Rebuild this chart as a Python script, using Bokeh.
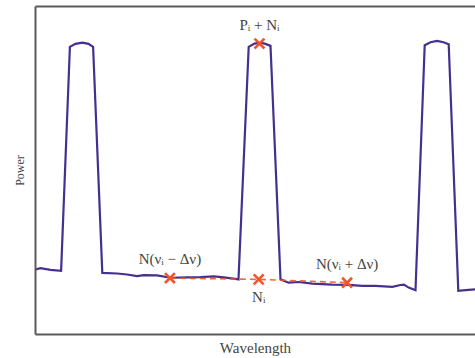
from bokeh.plotting import figure
from bokeh.models import LinearAxis, Range1d, FixedTicker, ColumnDataSource
from bokeh.core.properties import value
from bokeh.embed import file_html
from bokeh.resources import INLINE

# Spectrum (arbitrary units)
wavelength = [-2.0, -0.5, 1.25, 3.75, 6.4, 8.6, 10.0, 11.7, 13.25, 14.4,
              16.7, 20.4, 22.9, 25.4, 27.1, 30.4, 33.75, 37.9, 41.25, 44.6,
              47.1, 50.4, 50.75, 53.3, 54.75, 56.25, 57.5, 58.75, 61.25, 63.3,
              65.8, 69.2, 74.2, 78.3, 81.7, 85.0, 89.2, 91.25, 92.1, 93.3,
              95.0, 97.3, 98.75, 100.4, 102.0, 103.3, 105.7, 107.5, 110.0]
power = [19.5, 19.7, 20.2, 19.7, 19.4, 87.7, 88.6, 89.0, 88.6, 87.7,
         18.8, 18.6, 18.3, 17.8, 18.1, 18.0, 17.3, 17.4, 17.5, 17.7,
         17.4, 16.9, 16.8, 87.7, 88.7, 89.0, 88.6, 88.0, 16.8, 15.8,
         16.0, 15.5, 15.2, 15.1, 14.8, 14.8, 14.5, 15.1, 15.2, 14.3,
         13.5, 88.2, 89.1, 89.5, 89.1, 88.5, 13.3, 13.5, 13.8]

# Marked points: N(v-dv), N_i, N(v+dv), P_i+N_i
marker_wavelength = [33.6, 55.8, 77.9, 56.0]
marker_power = [17.2, 16.8, 15.8, 88.7]
marker_labels = ["N(νᵢ − Δν)", "Nᵢ", "N(νᵢ + Δν)", "Pᵢ + Nᵢ"]

LINE = "#45308F"
MARK = "#F2552C"
AXIS = "#5a5a5a"
TEXT = "#444444"
FONT = "Liberation Serif"

p = figure(width=475, height=358, output_backend="svg", toolbar_location=None,
           x_range=Range1d(0, 110), y_range=Range1d(0, 100),
           min_border_left=35, min_border_right=0, min_border_top=6,
           min_border_bottom=22,
           x_axis_label="Wavelength", y_axis_label="Power")
p.grid.visible = False
p.outline_line_color = None

for ax in [p.xaxis[0], p.yaxis[0]]:
    ax.ticker = FixedTicker(ticks=[])
    ax.major_tick_line_color = None
    ax.minor_tick_line_color = None
    ax.major_label_text_font_size = "0px"
    ax.major_label_standoff = 0
    ax.axis_line_color = AXIS
    ax.axis_line_width = 2
    ax.axis_label_text_font = FONT
    ax.axis_label_text_font_style = "normal"
    ax.axis_label_text_color = TEXT
p.xaxis[0].axis_label_text_font_size = "15px"
p.yaxis[0].axis_label_text_font_size = "12px"
p.yaxis[0].axis_label_standoff = 9
p.xaxis[0].axis_label_standoff = 5

top = LinearAxis(ticker=FixedTicker(ticks=[]), major_tick_line_color=None,
                 minor_tick_line_color=None, major_label_text_font_size="0px",
                 major_label_standoff=0, axis_line_color=AXIS, axis_line_width=2)
p.add_layout(top, "above")

p.line(wavelength, power, line_color=LINE, line_width=2.2, line_join="miter")

n_idx = [0, 1, 2]
p.line([marker_wavelength[i] for i in n_idx], [marker_power[i] for i in n_idx],
       line_color=MARK, line_width=1.6, line_dash="6 4", line_alpha=0.9)

p.scatter(marker_wavelength, marker_power, marker="x", size=14,
          line_color=MARK, line_width=2.6)

above = [0, 2, 3]
src_above = ColumnDataSource(dict(
    x=[marker_wavelength[i] for i in above],
    y=[marker_power[i] for i in above],
    t=[marker_labels[i] for i in above]))
p.text(x="x", y="y", text="t", source=src_above, text_align="center",
       text_baseline="alphabetic", y_offset=-19, text_font=value(FONT),
       text_font_size="15px", text_color=TEXT)

below = [1]
src_below = ColumnDataSource(dict(
    x=[marker_wavelength[i] for i in below],
    y=[marker_power[i] for i in below],
    t=[marker_labels[i] for i in below]))
p.text(x="x", y="y", text="t", source=src_below, text_align="center",
       text_baseline="alphabetic", y_offset=18, text_font=value(FONT),
       text_font_size="15px", text_color=TEXT)

open("out.html", "w").write(file_html(p, INLINE))
